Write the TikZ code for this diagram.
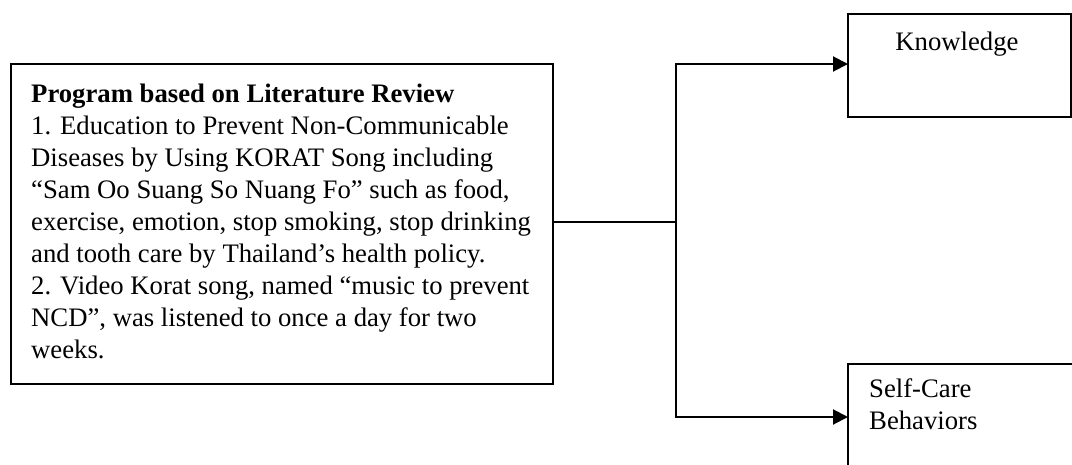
\documentclass[tikz,border=0pt]{standalone}
\usepackage{fontspec}
\setmainfont{Liberation Serif}
\usetikzlibrary{arrows.meta}
\begin{document}
\begin{tikzpicture}[x=1pt,y=-1pt,
  box/.style={draw=black, line width=2pt, inner sep=0pt, outer sep=0pt, anchor=north west},
  txt/.style={inner sep=0pt, font=\fontsize{26.7}{32}\selectfont},
  conn/.style={draw=black, line width=2pt},
  arr/.style={conn, -{Triangle[length=15pt,width=15pt]}}]
\clip (0,0) rectangle (1072,464);
\fill[white] (0,0) rectangle (1072,464);
% main program box
\node[box, minimum width=542pt, minimum height=320pt] (prog) at (11,64) {};
\node[txt, anchor=base west, align=left] (progtext) at (31,358)
{\textbf{Program based on Literature Review}\\
1. Education to Prevent Non-Communicable\\
Diseases by Using KORAT Song including\\
“Sam Oo Suang So Nuang Fo” such as food,\\
exercise, emotion, stop smoking, stop drinking\\
and tooth care by Thailand’s health policy.\\
2. Video Korat song, named “music to prevent\\
NCD”, was listened to once a day for two\\
weeks.};
% knowledge box
\node[box, minimum width=223pt, minimum height=103pt] (know) at (848,14) {};
\node[txt, anchor=base] (knowtext) at (957,50) {Knowledge};
% self-care box
\node[box, minimum width=260pt, minimum height=160pt] (self) at (848,364) {};
\node[txt, anchor=base west, align=left] (selftext) at (869,429) {Self-Care\\Behaviors};
% connectors
\coordinate (j) at (676,222);
\coordinate (ka) at (676,64);
\coordinate (sa) at (676,417);
\draw[conn] (prog.east |- j) -- (j);
\draw[arr] (j) |- (ka -| know.west);
\draw[arr] (j) |- (sa -| self.west);
\end{tikzpicture}
\end{document}
